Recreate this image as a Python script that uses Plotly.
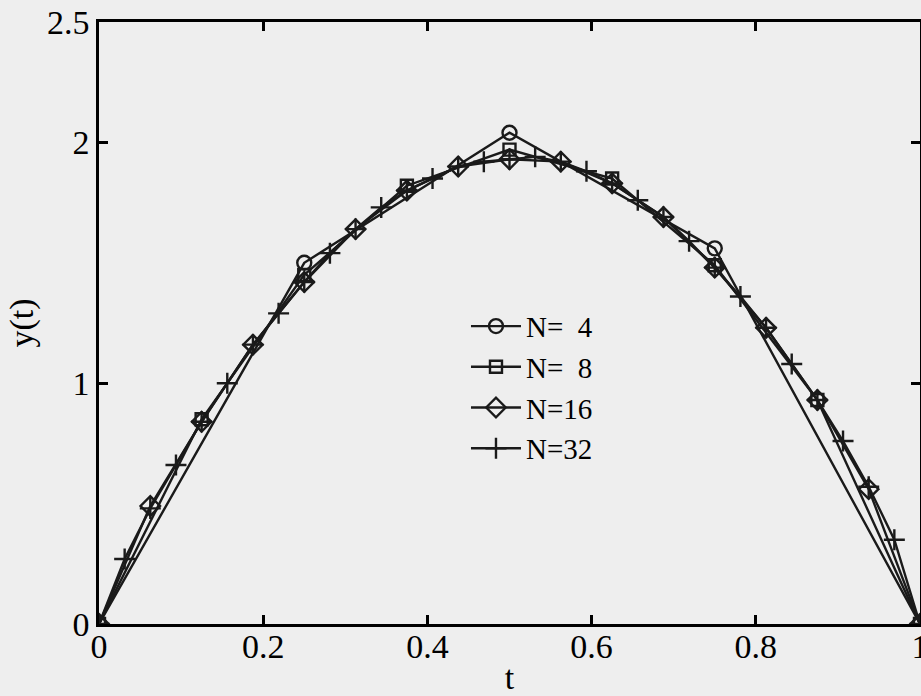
import plotly.graph_objects as go

t4 = [0, 0.25, 0.5, 0.75, 1.0]
y4 = [0, 1.50, 2.04, 1.56, 0]

t8 = [0, 0.125, 0.25, 0.375, 0.5, 0.625, 0.75, 0.875, 1.0]
y8 = [0, 0.85, 1.45, 1.82, 1.97, 1.85, 1.49, 0.93, 0]

t16 = [i / 16 for i in range(17)]
y16 = [0, 0.49, 0.84, 1.16, 1.42, 1.64, 1.80, 1.90, 1.93, 1.92, 1.83, 1.69, 1.48, 1.23, 0.93, 0.56, 0]

t32 = [i / 32 for i in range(33)]
y32 = [0, 0.27, 0.48, 0.66, 0.84, 1.00, 1.16, 1.29, 1.42, 1.54, 1.64, 1.73, 1.80, 1.85, 1.90, 1.92,
       1.93, 1.94, 1.92, 1.88, 1.83, 1.76, 1.69, 1.59, 1.48, 1.36, 1.23, 1.08, 0.93, 0.76, 0.57, 0.35, 0]

names = ["N=  4", "N=  8", "N=16", "N=32"]
symbols = ["circle-open", "square-open", "diamond-open", "cross-thin-open"]
sizes = [14, 12, 15, 15]
ink = "#1a1a1a"
serif = "Liberation Serif"

fig = go.Figure()
for tt, yy, nm, sy, sz in zip([t4, t8, t16, t32], [y4, y8, y16, y32], names, symbols, sizes):
    fig.add_trace(go.Scatter(
        x=tt, y=yy, name=nm, mode="lines+markers",
        line=dict(color=ink, width=2.4),
        marker=dict(symbol=sy, size=sz, color=ink, line=dict(color=ink, width=2.4)),
    ))

axis_common = dict(
    showline=True, mirror="ticks", linecolor="black", linewidth=2.5,
    ticks="inside", ticklen=9, tickwidth=2.5, tickcolor="black",
    showgrid=False, zeroline=False, ticklabeloverflow="allow", automargin=False,
    tickfont=dict(family=serif, size=34, color="black"),
)

fig.update_xaxes(range=[0, 1], tickvals=[0, 0.2, 0.4, 0.6, 0.8, 1], ticktext=["0", "0.2", "0.4", "0.6", "0.8", "1"],
                 ticklabelstandoff=-10,
                 title=dict(text="t", font=dict(family=serif, size=34, color="black"), standoff=14),
                 **axis_common)
fig.update_yaxes(range=[0, 2.5], tickvals=[0, 1, 2, 2.5], ticktext=["0", "1", "2", "2.5"],
                 ticklabelstandoff=0,
                 title=dict(text="y(t)", font=dict(family=serif, size=34, color="black"), standoff=4),
                 **axis_common)

fig.update_layout(
    width=921, height=696,
    margin=dict(l=99, r=1, t=22, b=72),
    paper_bgcolor="#eeeeee", plot_bgcolor="#eeeeee",
    font=dict(family=serif, size=34, color="black"),
    legend=dict(x=0.447, y=0.537, xanchor="left", yanchor="top", bgcolor="rgba(0,0,0,0)",
                itemwidth=50, tracegroupgap=0,
                font=dict(family=serif, size=29, color="black")),
)

fig.write_html("out.html")
